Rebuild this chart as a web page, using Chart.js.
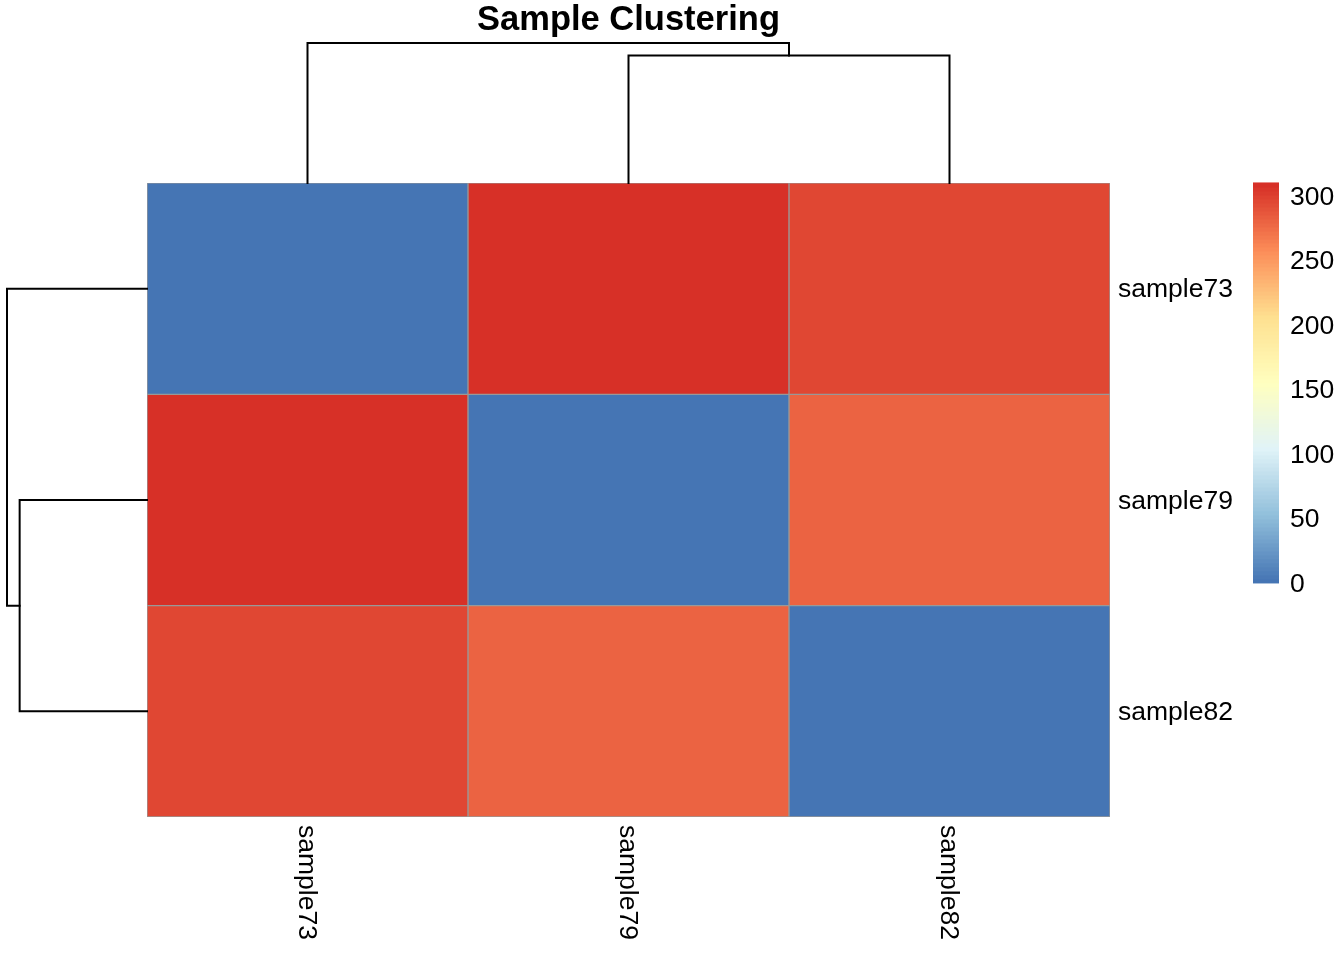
<!DOCTYPE html>
<html>
<head>
<meta charset="utf-8">
<script src="https://cdn.jsdelivr.net/npm/chart.js@4"></script>
<style>
  html, body { margin: 0; padding: 0; background: #ffffff; }
  #wrap { width: 1344px; height: 960px; position: relative; }
</style>
</head>
<body>
<div id="wrap"><canvas id="c" width="1344" height="960"></canvas></div>
<script>
// ---- data ----
const samples = ['sample73', 'sample79', 'sample82'];
const dist73 = [0, 310, 295];
const dist79 = [310, 0, 282];
const dist82 = [295, 282, 0];
const legendTicks = [0, 50, 100, 150, 200, 250, 300];
const paletteHex = ['#4575B4', '#91BFDB', '#E0F3F8', '#FFFFBF', '#FEE090', '#FC8D59', '#D73027'];
const titleText = 'Sample Clustering';

const matrix = [dist73, dist79, dist82];
const vMin = 0;
const vMax = Math.max(...matrix.flat());
const nColors = 100;
const FONT = "'Liberation Sans', Arial, sans-serif";

function hexRgb(h) { return [1, 3, 5].map(i => parseInt(h.substr(i, 2), 16)); }
const palRgb = paletteHex.map(hexRgb);
function rampColor(p) {
  const pos = p * (palRgb.length - 1);
  const i = Math.min(Math.floor(pos), palRgb.length - 2);
  const t = pos - i;
  const a = palRgb[i], b = palRgb[i + 1];
  const c = a.map((v, k) => Math.round(v + (b[k] - v) * t));
  return 'rgb(' + c.join(',') + ')';
}
const palette = Array.from({length: nColors}, (_, i) => rampColor(i / (nColors - 1)));
function colorFor(v) {
  let idx = Math.floor((v - vMin) / (vMax - vMin) * nColors);
  idx = Math.max(0, Math.min(nColors - 1, idx));
  return palette[idx];
}

// complete-linkage clustering (leaf order preserved as given)
function hclust(m) {
  let clusters = m.map((_, i) => ({members: [i], pos: i, h: 0, leaf: true}));
  const merges = [];
  while (clusters.length > 1) {
    let best = null;
    for (let a = 0; a < clusters.length; a++) {
      for (let b = a + 1; b < clusters.length; b++) {
        let d = 0;
        clusters[a].members.forEach(i => clusters[b].members.forEach(j => { d = Math.max(d, m[i][j]); }));
        if (!best || d < best.d) best = {a, b, d};
      }
    }
    const A = clusters[best.a], B = clusters[best.b];
    const node = {members: A.members.concat(B.members), pos: (A.pos + B.pos) / 2, h: best.d, left: A, right: B};
    merges.push(node);
    clusters = clusters.filter((_, k) => k !== best.a && k !== best.b);
    clusters.push(node);
  }
  return merges;
}
const merges = hclust(matrix);
const treeMax = Math.max(...merges.map(n => n.h));

const datasets = matrix.map((row, r) => ({
  label: samples[r],
  data: samples.map(() => [r, r + 1]),
  backgroundColor: row.map(colorFor),
  borderColor: '#999999',
  borderWidth: 1,
  borderSkipped: false,
  grouped: false,
  barPercentage: 1,
  categoryPercentage: 1
}));

const TREE_PX = 140;
const LABEL_SIZE = 26.5;

const extras = {
  id: 'extras',
  afterDraw(chart) {
    const ctx = chart.ctx;
    const xs = chart.scales.x, ys = chart.scales.y;
    const area = chart.chartArea;
    const colPx = p => xs.getPixelForValue(p);
    const rowPx = p => ys.getPixelForValue(p + 0.5);
    ctx.save();
    // dendrograms
    ctx.strokeStyle = '#000000';
    ctx.lineWidth = 2;
    ctx.lineCap = 'square';
    merges.forEach(n => {
      const hy = area.top - n.h / treeMax * TREE_PX;
      const lx = colPx(n.left.pos), rx = colPx(n.right.pos);
      const ly = area.top - n.left.h / treeMax * TREE_PX;
      const ry = area.top - n.right.h / treeMax * TREE_PX;
      ctx.beginPath();
      ctx.moveTo(lx, ly); ctx.lineTo(lx, hy); ctx.lineTo(rx, hy); ctx.lineTo(rx, ry);
      ctx.stroke();
      const hx = area.left - n.h / treeMax * TREE_PX;
      const ty = rowPx(n.left.pos), by = rowPx(n.right.pos);
      const tx = area.left - n.left.h / treeMax * TREE_PX;
      const bx = area.left - n.right.h / treeMax * TREE_PX;
      ctx.beginPath();
      ctx.moveTo(tx, ty); ctx.lineTo(hx, ty); ctx.lineTo(hx, by); ctx.lineTo(bx, by);
      ctx.stroke();
    });
    ctx.fillStyle = '#000000';
    ctx.font = LABEL_SIZE + 'px ' + FONT;
    ctx.textAlign = 'left';
    ctx.textBaseline = 'middle';
    // row labels
    samples.forEach((s, i) => {
      ctx.fillText(s, area.right + 8, rowPx(i) + 1.5);
    });
    // column labels (rotated)
    samples.forEach((s, i) => {
      ctx.save();
      ctx.translate(colPx(i) - 1.5, area.bottom + 8);
      ctx.rotate(Math.PI / 2);
      ctx.fillText(s, 0, 0);
      ctx.restore();
    });
    // color legend
    const lx = area.right + 143, lw = 26, lTop = area.top, lLen = 400;
    const lBottom = lTop + lLen;
    const step = lLen / nColors;
    palette.forEach((c, i) => {
      ctx.fillStyle = c;
      ctx.fillRect(lx, lBottom - (i + 1) * step - 0.5, lw, step + 1);
    });
    ctx.fillStyle = '#000000';
    legendTicks.forEach(t => {
      const y = lBottom - (t - vMin) / (vMax - vMin) * lLen;
      ctx.fillText(String(t), lx + lw + 11, y + 1.5);
    });
    ctx.restore();
  }
};

new Chart(document.getElementById('c'), {
  type: 'bar',
  data: { labels: samples, datasets },
  options: {
    responsive: false,
    animation: false,
    devicePixelRatio: 1,
    layout: { padding: { left: 147, right: 234, top: 0, bottom: 143 } },
    plugins: {
      legend: { display: false },
      tooltip: { enabled: false },
      title: {
        display: true,
        text: titleText,
        fullSize: false,
        color: '#000000',
        font: { family: FONT, size: 34.5, weight: 'bold', lineHeight: 1.1 },
        padding: { top: 2, bottom: 143 }
      }
    },
    scales: {
      x: { type: 'category', display: false, offset: true },
      y: { type: 'linear', min: 0, max: 3, reverse: true, display: false }
    }
  },
  plugins: [extras]
});
</script>
</body>
</html>
